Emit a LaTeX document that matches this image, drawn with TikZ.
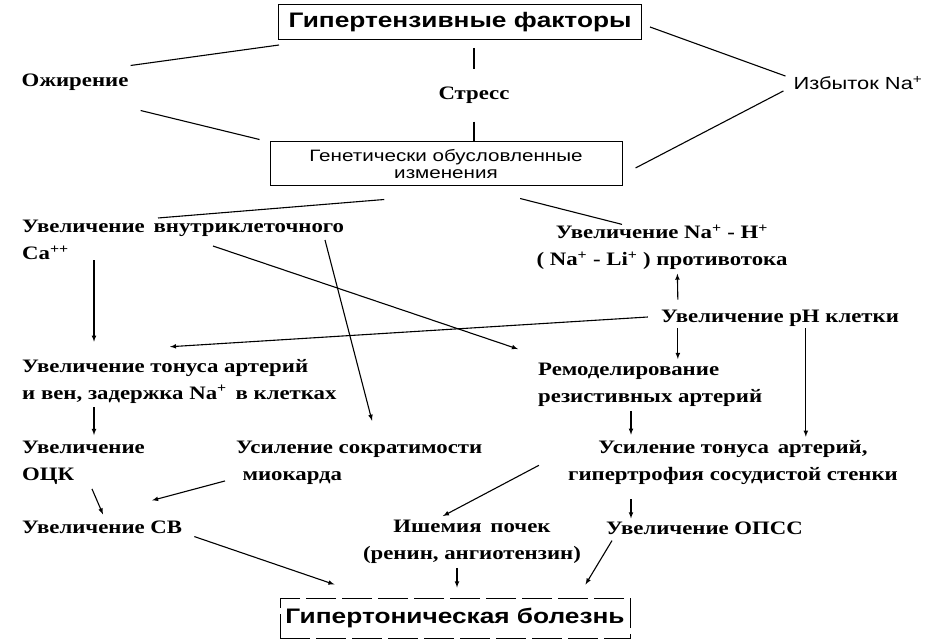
\documentclass[tikz,border=0pt]{standalone}
\usepackage{fontspec}
\setmainfont{Liberation Serif}[FakeStretch=1.2]
\newfontfamily\sansf{Liberation Sans}[FakeStretch=1.25]
\usetikzlibrary{arrows, calc, positioning}

\tikzset{
    lbl/.style={font=\bfseries\fontsize{19}{27}\selectfont, inner sep=0pt, align=left},
    lblc/.style={lbl, align=center},
    headbox/.style={draw, line width=1pt, font=\sansf\bfseries\fontsize{21}{24}\selectfont, inner sep=0pt},
    link/.style={line width=1.1pt},
    arr/.style={line width=1.1pt, ->},
}

\begin{document}
\begin{tikzpicture}[>=latex, x=1pt, y=-1pt]
    \useasboundingbox (0,0) rectangle (952,644);

    % top level
    \node[headbox, minimum width=363pt, minimum height=35pt] (factors) at (460,22) {Гипертензивные факторы};
    \node[lbl] (obesity) at (75,82) {Ожирение};
    \node[lbl] (stress) at (474,95) {Стресс};
    \node[font=\sansf\fontsize{17.5}{20}\selectfont, inner sep=0pt] (sodium) at (858,83) {Избыток Na\textsuperscript{+}};
    \node[draw, line width=1pt, minimum width=352pt, minimum height=44pt, inner sep=0pt, align=center,
          font=\sansf\fontsize{16.5}{17}\selectfont] (genetic) at (446,164) {Генетически обусловленные\\изменения};

    \draw[link] ($(factors.south west)+(1,5)$) -- ($(obesity.north east)+(2,-8)$);
    \draw[link] ($(obesity.south east)+(12,20)$) -- ($(genetic.north west)+(-10,-2)$);
    \draw[link, shorten <=8pt, shorten >=17pt] (factors.south -| stress.north) -- (stress.north);
    \draw[link, shorten <=18pt] (stress.south) -- (stress.south |- genetic.north);
    \draw[link] ($(factors.east)+(8,5)$) -- ($(sodium.north west)+(-8,0)$);
    \draw[link] ($(sodium.south west)+(-10,1)$) -- ($(genetic.east)+(13,4)$);

    % mechanisms
    \node[lbl, anchor=west] (calcium) at (22,240) {Увеличение\, внутриклеточного\\Ca\textsuperscript{++}};
    \node[lblc] (exchange) at (662,247) {Увеличение Na\textsuperscript{+} - H\textsuperscript{+}\\( Na\textsuperscript{+} - Li\textsuperscript{+} ) противотока};
    \node[lbl] (ph) at (780,318) {Увеличение pH клетки};

    \draw[link] ($(genetic.south)!0.35!(genetic.south west)+(0,13)$) -- ($(calcium.north west)+(136,-2)$);
    \draw[link] ($(genetic.south)!0.42!(genetic.south east)+(0,12)$) -- ($(exchange.north)+(-40,0)$);

    \node[lbl, anchor=west] (tonevein) at (22,381) {Увеличение тонуса артерий\\и вен, задержка Na\textsuperscript{+}\, в клетках};
    \node[lbl, anchor=west] (remodel) at (538,385) {Ремоделирование\\резистивных артерий};

    \coordinate (phleft) at ($(ph.south west)+(17,2)$);
    \coordinate (phright) at ($(ph.south west)+(145,2)$);
    \coordinate (remdown) at ($(remodel.south west)+(93,4)$);

    \draw[arr] ($(calcium.south west)+(72,0)$) -- ($(tonevein.north west)+(72,-17)$);
    \draw[arr] ($(ph.west)+(-13,-1)$) -- ($(tonevein.north west)+(148,-12)$);
    \draw[arr] ($(calcium.south west)+(191,-14)$) -- ($(remodel.north west)+(-20,-14)$);
    \draw[arr] ($(calcium.south west)+(303,-20)$) -- ($(tonevein.north west)+(350,62)$);
    \draw[arr] ($(ph.north west)+(17,-10)$) -- ($(exchange.south west)+(141,4)$);
    \draw[arr, shorten >=4pt] (phleft) -- (phleft |- remodel.north);

    % effects
    \node[lbl, anchor=west] (volume) at (22,463) {Увеличение\\ОЦК};
    \node[lbl, anchor=west] (contract) at (236,463) {Усиление сократимости\\\,\,миокарда};
    \node[lblc] (tonewall) at (733,463) {Усиление тонуса\, артерий,\\гипертрофия сосудистой стенки};

    \draw[arr, shorten >=4pt] (phright) -- (phright |- tonewall.north);
    \draw[arr] ($(tonevein.south west)+(72,4)$) -- ($(volume.north west)+(72,-6)$);
    \draw[arr, shorten >=6pt] (remdown) -- (remdown |- tonewall.north);

    \node[lbl, anchor=west] (output) at (22,527) {Увеличение СВ};
    \node[lblc] (kidney) at (472,542) {Ишемия\, почек\\(ренин, ангиотензин)};
    \node[lbl, anchor=west] (resist) at (606,528) {Увеличение ОПСС};

    \draw[arr] ($(volume.south west)+(70,4)$) -- ($(output.north west)+(81,-6)$);
    \draw[arr] ($(contract.south west)+(-11,-4)$) -- ($(output.north west)+(130,-20)$);
    \draw[arr] ($(tonewall.south west)+(-29,-20)$) -- ($(kidney.north west)+(80,-4)$);
    \draw[arr] ($(resist.north west)+(25,-22)$) -- ($(resist.north west)+(25,-3)$);

    % outcome
    \node[headbox, dash pattern=on 30pt off 6pt, minimum width=350pt, minimum height=40pt] (disease) at (455,618) {Гипертоническая болезнь};

    \coordinate (kiddown) at ($(kidney.south)+(-15,4)$);

    \draw[arr] ($(output.south east)+(12,3)$) -- ($(disease.north west)+(55,-13)$);
    \draw[arr, shorten >=10pt] (kiddown) -- (kiddown |- disease.north);
    \draw[arr] ($(resist.south west)+(6,6)$) -- ($(disease.north east)+(-45,-13)$);
\end{tikzpicture}
\end{document}
